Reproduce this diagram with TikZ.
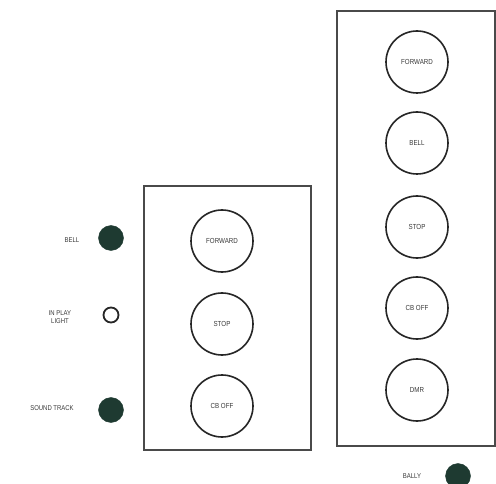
\documentclass[tikz,border=0pt]{standalone}
\usepackage{fontspec}
\setmainfont{Liberation Sans}
\definecolor{dotgreen}{HTML}{1E3A31}
\definecolor{linegray}{HTML}{4A4A4A}
\definecolor{txtgray}{HTML}{3A3A3A}
\begin{document}
\begin{tikzpicture}[x=1pt,y=-1pt,
  panel/.style={draw=linegray,line width=1.2pt},
  btn/.style={circle,draw=black!85,line width=1.6pt,minimum size=62pt,inner sep=0pt,font=\fontsize{7.3}{8}\selectfont\addfontfeatures{FakeStretch=0.85},text=txtgray},
  lamp/.style={circle,fill=dotgreen,draw=dotgreen,minimum size=25pt,inner sep=0pt},
  openlamp/.style={circle,draw=black!85,line width=1.8pt,minimum size=15pt,inner sep=0pt},
  lbl/.style={font=\fontsize{7}{7.5}\selectfont\addfontfeatures{FakeStretch=0.85},text=txtgray,inner sep=0pt,align=center}]
\useasboundingbox (0,0) rectangle (496,484);
\fill[white] (0,0) rectangle (496,484);
% left panel
\draw[panel] (144,186) rectangle (311,450);
\node[btn] (lfwd) at (222,241) {FORWARD};
\node[btn] (lstop) at (222,324) {STOP};
\node[btn] (lcb) at (222,406) {CB OFF};
% right panel
\draw[panel] (337,11) rectangle (495,446);
\node[btn] (rfwd) at (417,62) {FORWARD};
\node[btn] (rbell) at (417,143) {BELL};
\node[btn] (rstop) at (417,227) {STOP};
\node[btn] (rcb) at (417,308) {CB OFF};
\node[btn] (rdmr) at (417,390) {DMR};
% lamps
\node[lamp] (bell) at (111,238) {};
\node[lbl] (belll) at (72,240) {BELL};
\node[openlamp] (play) at (111,315) {};
\node[lbl] (playl) at (60,317) {IN PLAY\\LIGHT};
\node[lamp] (sound) at (111,410) {};
\node[lbl] (soundl) at (52,408) {SOUND TRACK};
\node[lamp] (bally) at (458,476) {};
\node[lbl] (ballyl) at (412,476) {BALLY};
\end{tikzpicture}
\end{document}
